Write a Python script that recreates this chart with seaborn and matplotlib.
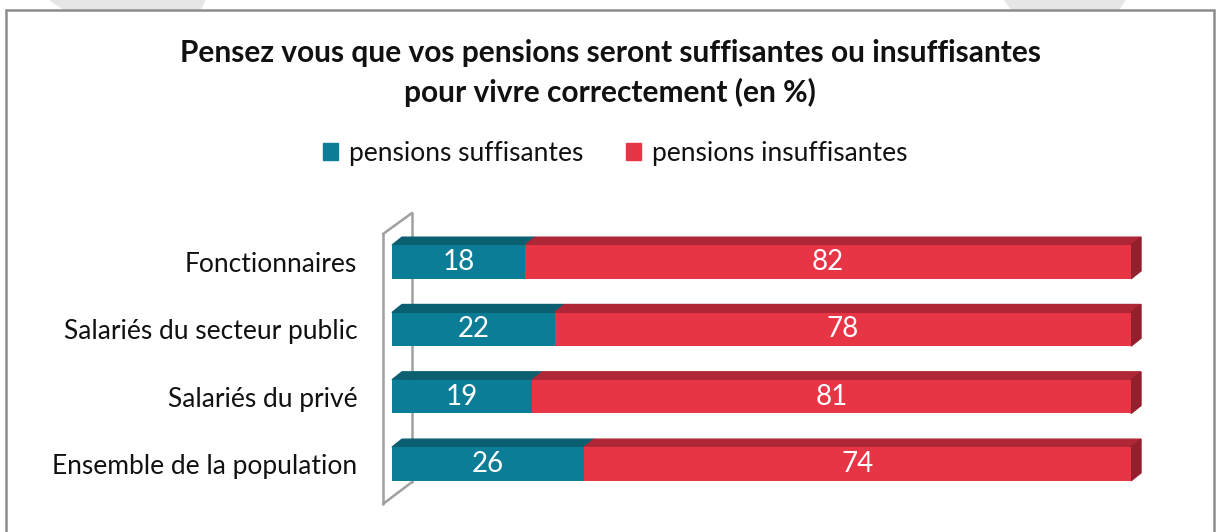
import matplotlib
matplotlib.use("Agg")
import matplotlib.pyplot as plt
import seaborn as sns
import pandas as pd
from matplotlib.patches import Polygon, Patch
from matplotlib.lines import Line2D

# data
categories = ["Fonctionnaires", "Salariés du secteur public",
              "Salariés du privé", "Ensemble de la population"]
suffisantes = [18, 22, 19, 26]
insuffisantes = [82, 78, 81, 74]
legend_labels = ["pensions suffisantes", "pensions insuffisantes"]
title = ("Pensez vous que vos pensions seront suffisantes ou insuffisantes\n"
         "pour vivre correctement (en %)")

# colours
TEAL, TEAL_TOP = "#0B7D96", "#0A5F71"
RED, RED_TOP, RED_SIDE = "#E83546", "#AF2636", "#94202D"
FRAME = "#8C8C8C"

sns.set_theme(style="white")
plt.rcParams["font.family"] = ["Lato", "DejaVu Sans"]

W, H = 1216, 532
fig = plt.figure(figsize=(W / 100, H / 100), dpi=100)


def fx(px):
    return px / W


def fy(py):
    return 1 - py / H


# faint background shapes above the frame
for pts in ([(50, 0), (205, 0), (200, 10), (65, 10)],
            [(1005, 0), (1125, 0), (1118, 10), (1012, 10)]):
    fig.patches.append(Polygon([(fx(a), fy(b)) for a, b in pts], closed=True,
                               transform=fig.transFigure, color="#E6E6E6",
                               zorder=-5))

# chart frame (no bottom edge visible)
for xs, ys in (([6, 6], [532, 10]), ([6, 1214], [10, 10]), ([1214, 1214], [10, 532])):
    fig.add_artist(Line2D([fx(v) for v in xs], [fy(v) for v in ys],
                          color=FRAME, lw=1.8, zorder=-4))

# plotting area: x 0..100 -> px 392..1131, bar centres at 262 + 67.33*i
top_px, bot_px, step = 200, 520, 67.33
ax = fig.add_axes([fx(392), fy(bot_px), fx(1131) - fx(392), (bot_px - top_px) / H])
ax.patch.set_alpha(0)

df = pd.DataFrame({"cat": categories, "suff": suffisantes, "insuff": insuffisantes})
df["total"] = df["suff"] + df["insuff"]

sns.barplot(data=df, x="total", y="cat", color=RED, width=0.5, linewidth=0,
            saturation=1, ax=ax, zorder=3)
sns.barplot(data=df, x="suff", y="cat", color=TEAL, width=0.5, linewidth=0,
            saturation=1, ax=ax, zorder=3)

ax.set_xlim(0, 100)
ax.set_ylim(3 + (bot_px - 464) / step, -(262 - top_px) / step)
ax.set_xlabel("")
ax.set_ylabel("")
ax.set_xticks([])
for s in ax.spines.values():
    s.set_visible(False)
ax.tick_params(axis="y", length=0, pad=25, labelsize=19, labelcolor="#111111")

# 3d depth faces
dx, dy, hb = 10 / 7.39, 8 / step, 0.25
for i, (s, t) in enumerate(zip(df["suff"], df["total"])):
    yt = i - hb
    for x0, x1, c in ((0, s, TEAL_TOP), (s, t, RED_TOP)):
        ax.add_patch(Polygon([(x0, yt), (x1, yt), (x1 + dx, yt - dy), (x0 + dx, yt - dy)],
                             closed=True, color=c, clip_on=False, zorder=2))
    ax.add_patch(Polygon([(t, yt), (t + dx, yt - dy), (t + dx, i + hb - dy), (t, i + hb)],
                         closed=True, color=RED_SIDE, clip_on=False, zorder=2))

# value labels
for i, (s, n) in enumerate(zip(df["suff"], df["insuff"])):
    ax.text(s / 2, i, str(s), ha="center", va="center", color="white",
            fontsize=20, zorder=5)
    ax.text(s + n / 2, i, str(n), ha="center", va="center", color="white",
            fontsize=20, zorder=5)

# side wall of the 3d frame
wall = [([412, 412], [213, 482], -1), ([383, 383], [234, 504], 4),
        ([383, 412], [234, 213], 4), ([383, 412], [504, 482], 4)]
for xs, ys, z in wall:
    fig.add_artist(Line2D([fx(v) for v in xs], [fy(v) for v in ys],
                          color="#A0A0A0", lw=1.8, zorder=z))

fig.text(fx(610), fy(39), title, ha="center", va="top", fontsize=21.5,
         fontweight="bold", color="#111111", linespacing=1.45)

handles = [Patch(color=TEAL), Patch(color=RED)]
fig.legend(handles, legend_labels, loc="center", bbox_to_anchor=(fx(615), fy(153)),
           ncol=2, frameon=False, fontsize=19, handlelength=0.6, handleheight=0.6,
           handletextpad=0.4, columnspacing=1.6, labelcolor="#111111")

fig.savefig("out.png", dpi=100)
